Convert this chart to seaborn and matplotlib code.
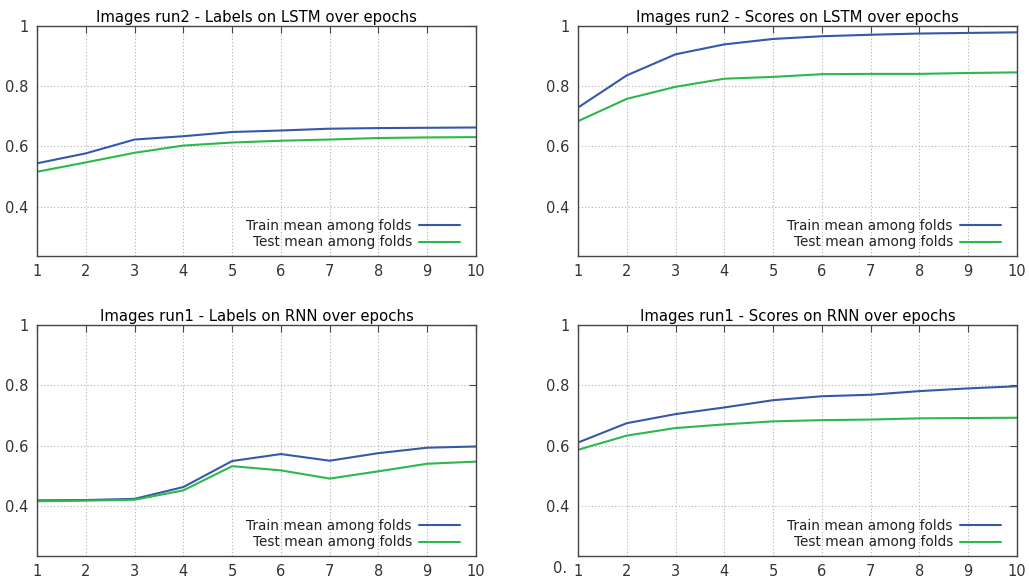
import pandas as pd
import seaborn as sns
import matplotlib.pyplot as plt

# ---------------------------------------------------------
# Daten
# ---------------------------------------------------------
epochs = list(range(1, 11))

lstm_labels_train = [0.544, 0.577, 0.623, 0.634, 0.648, 0.653, 0.659, 0.661, 0.662, 0.663]
lstm_labels_test = [0.516, 0.547, 0.579, 0.603, 0.613, 0.619, 0.623, 0.628, 0.630, 0.631]

lstm_scores_train = [0.729, 0.836, 0.906, 0.939, 0.957, 0.966, 0.971, 0.975, 0.977, 0.979]
lstm_scores_test = [0.684, 0.758, 0.798, 0.825, 0.831, 0.840, 0.841, 0.841, 0.844, 0.846]

rnn_labels_train = [0.420, 0.421, 0.425, 0.464, 0.550, 0.573, 0.551, 0.576, 0.594, 0.598]
rnn_labels_test = [0.417, 0.419, 0.422, 0.453, 0.533, 0.519, 0.492, 0.516, 0.541, 0.548]

rnn_scores_train = [0.611, 0.675, 0.705, 0.727, 0.751, 0.764, 0.769, 0.781, 0.790, 0.797]
rnn_scores_test = [0.587, 0.634, 0.659, 0.671, 0.681, 0.685, 0.687, 0.691, 0.692, 0.693]

titles = [
    "Images run2 - Labels on LSTM over epochs",
    "Images run2 - Scores on LSTM over epochs",
    "Images run1 - Labels on RNN over epochs",
    "Images run1 - Scores on RNN over epochs",
]
series_names = ["Train mean among folds", "Test mean among folds"]
colors = ["#3658a8", "#2cb84a"]

panels = [
    (lstm_labels_train, lstm_labels_test),
    (lstm_scores_train, lstm_scores_test),
    (rnn_labels_train, rnn_labels_test),
    (rnn_scores_train, rnn_scores_test),
]

# ---------------------------------------------------------
# Plot
# ---------------------------------------------------------
sns.set_style("white")
plt.rcParams["font.family"] = ["DejaVu Sans"]

fig = plt.figure(figsize=(10.29, 5.78), dpi=100)
positions = [
    [0.036, 0.557, 0.4266, 0.398],
    [0.5617, 0.557, 0.4266, 0.398],
    [0.036, 0.038, 0.4266, 0.400],
    [0.5617, 0.038, 0.4266, 0.400],
]

for i, (train, test) in enumerate(panels):
    ax = fig.add_axes(positions[i])
    df = pd.DataFrame({
        "epoch": epochs * 2,
        "value": train + test,
        "series": [series_names[0]] * 10 + [series_names[1]] * 10,
    })
    sns.lineplot(data=df, x="epoch", y="value", hue="series",
                 palette=colors, linewidth=1.5, ax=ax)
    ax.set_xlim(1, 10)
    ax.set_ylim(0.236, 1.0)
    ax.set_xticks(epochs)
    ax.set_yticks([0.4, 0.6, 0.8, 1.0])
    ax.set_yticklabels(["0.4", "0.6", "0.8", "1"])
    ax.set_xlabel("")
    ax.set_ylabel("")
    ax.set_title(titles[i], fontsize=10.7, pad=3, color="black")
    ax.grid(True, color="#b0b0b0", linestyle=(0, (1, 2)), linewidth=0.8)
    ax.tick_params(direction="in", length=5, top=True, right=True,
                   labelsize=10.5, labelcolor="#333333", color="#444444", pad=6)
    for sp in ax.spines.values():
        sp.set_color("#444444")
        sp.set_linewidth(1.0)
    leg = ax.legend(loc="lower right", frameon=False, markerfirst=False,
                    fontsize=9.8, handlelength=3.0, handletextpad=0.5,
                    borderaxespad=0.0, bbox_to_anchor=(0.975, 0.005),
                    labelspacing=0.2)
    # Texte rechtsbuendig wie bei gnuplot
    for col in leg._legend_handle_box.get_children():
        col.align = "right"
    for t in leg.get_texts():
        t.set_color("#222222")

# abgeschnittenes Label unten rechts
fig.text(0.551, 0.008, "0.", fontsize=10.5, color="#333333", ha="right")

fig.savefig("out.png", dpi=100)
